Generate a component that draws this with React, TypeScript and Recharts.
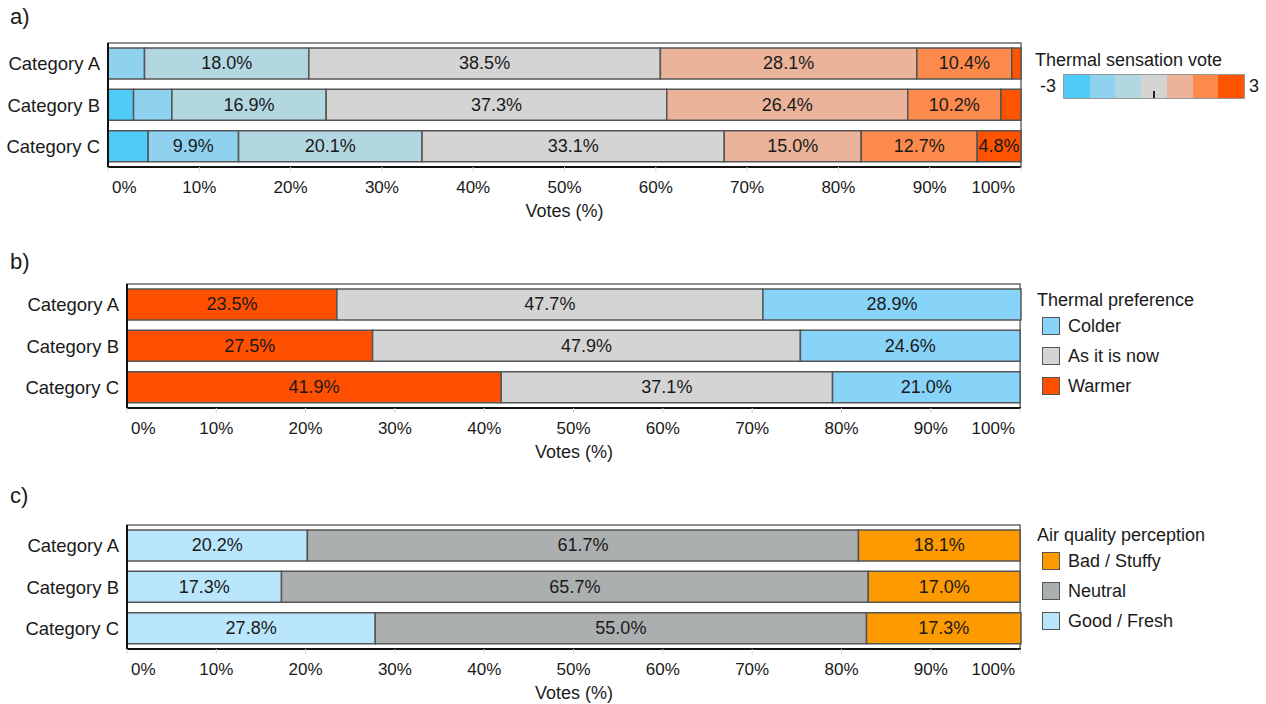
import React from "react";
import { Bar, BarChart, LabelList, ReferenceArea, XAxis, YAxis } from "recharts";

const FONT = "'Liberation Sans', Arial, sans-serif";
const INK = "#1a1a1a";

const categories = ["Category A", "Category B", "Category C"];
const xTicks = [0, 10, 20, 30, 40, 50, 60, 70, 80, 90, 100];

// a) thermal sensation vote (-3 .. 3), % of votes per category
const sensationLevels = ["-3", "-2", "-1", "0", "1", "2", "3"];
const sensationColors = ["#4ecbf7", "#8fd2f0", "#b3d7e1", "#d4d4d4", "#ebb399", "#fd8a4d", "#fe5300"];
const sensationM3 = [0.0, 2.8, 4.4];
const sensationM2 = [4.0, 4.2, 9.9];
const sensationM1 = [18.0, 16.9, 20.1];
const sensation0 = [38.5, 37.3, 33.1];
const sensationP1 = [28.1, 26.4, 15.0];
const sensationP2 = [10.4, 10.2, 12.7];
const sensationP3 = [1.0, 2.2, 4.8];

// b) thermal preference
const prefLabels = ["Warmer", "As it is now", "Colder"];
const prefColors = ["#fe5000", "#d4d4d4", "#87d4f8"];
const prefWarmer = [23.5, 27.5, 41.9];
const prefAsIs = [47.7, 47.9, 37.1];
const prefColder = [28.9, 24.6, 21.0];

// c) air quality perception
const airLabels = ["Good / Fresh", "Neutral", "Bad / Stuffy"];
const airColors = ["#b9e6fb", "#abafaf", "#fd9a00"];
const airGood = [20.2, 17.3, 27.8];
const airNeutral = [61.7, 65.7, 55.0];
const airBad = [18.1, 17.0, 17.3];

function buildRows(series: number[][]) {
  return categories.map((cat, i) => {
    const row: Record<string, any> = { cat };
    series.forEach((s, k) => {
      row["k" + k] = s[i];
    });
    return row;
  });
}

const sensationRows = buildRows([sensationM3, sensationM2, sensationM1, sensation0, sensationP1, sensationP2, sensationP3]);
const prefRows = buildRows([prefWarmer, prefAsIs, prefColder]);
const airRows = buildRows([airGood, airNeutral, airBad]);

function PctTick(props: any) {
  const { x, y, payload } = props;
  const v = payload.value;
  const anchor = v === 0 ? "start" : v === 100 ? "end" : "middle";
  const dx = v === 0 ? 4 : v === 100 ? -3 : 0;
  return (
    <text x={x + dx} y={y} dy="0.71em" textAnchor={anchor} fontSize={17} fill={INK} fontFamily={FONT}>
      {v}%
    </text>
  );
}

function SegmentLabel(props: any) {
  const { x, y, width, height, value } = props;
  if (value == null || value < 4.75) return null;
  return (
    <text
      x={x + width / 2}
      y={y + height / 2}
      textAnchor="middle"
      dominantBaseline="central"
      fontSize={18}
      fill={INK}
      fontFamily={FONT}
    >
      {value.toFixed(1)}%
    </text>
  );
}

function StackPanel({ top, rows, colors, yWidth }: { top: number; rows: any[]; colors: string[]; yWidth: number }) {
  return (
    <div style={{ position: "absolute", left: 0, top }}>
      <BarChart
        width={1030}
        height={225}
        data={rows}
        layout="vertical"
        margin={{ top: 43, right: 9, left: 0, bottom: 0 }}
        barCategoryGap="12%"
      >
        <ReferenceArea x1={0} x2={100} fill="none" stroke="#6a6a6a" strokeWidth={1.5} ifOverflow="visible" />
        <XAxis
          type="number"
          domain={[0, 100]}
          ticks={xTicks}
          height={58}
          axisLine={{ stroke: "#111", strokeWidth: 2 }}
          tickLine={{ stroke: "#d8d8d8" }}
          tickSize={5}
          tickMargin={9}
          tick={<PctTick />}
          label={{ value: "Votes (%)", position: "insideBottom", offset: 8, fontSize: 18, fill: INK, fontFamily: FONT }}
        />
        <YAxis
          type="category"
          dataKey="cat"
          width={yWidth}
          axisLine={{ stroke: "#111", strokeWidth: 2 }}
          tickLine={false}
          tickSize={0}
          tickMargin={8}
          tick={{ fontSize: 18.5, fill: INK, fontFamily: FONT }}
        />
        {colors.map((c, i) => (
          <Bar key={i} dataKey={"k" + i} stackId="s" fill={c} stroke="#555" strokeWidth={1.5} isAnimationActive={false}>
            <LabelList dataKey={"k" + i} content={<SegmentLabel />} />
          </Bar>
        ))}
      </BarChart>
    </div>
  );
}

function PanelTag({ text, top }: { text: string; top: number }) {
  return (
    <div style={{ position: "absolute", left: 10, top, fontSize: 22, color: INK, lineHeight: "24px" }}>{text}</div>
  );
}

function KeyLegend({ title, top, items }: { title: string; top: number; items: { label: string; color: string }[] }) {
  return (
    <div style={{ position: "absolute", left: 1037, top, color: INK, fontSize: 18 }}>
      <div style={{ lineHeight: "22px" }}>{title}</div>
      {items.map((it) => (
        <div key={it.label} style={{ display: "flex", alignItems: "center", height: 30, marginLeft: 5 }}>
          <div style={{ width: 16, height: 16, background: it.color, border: "1.5px solid #555", marginRight: 8 }} />
          <span>{it.label}</span>
        </div>
      ))}
    </div>
  );
}

export default function App() {
  return (
    <div
      style={{
        position: "absolute",
        left: 0,
        top: 0,
        width: 1266,
        height: 704,
        background: "#fff",
        fontFamily: FONT,
        overflow: "hidden",
      }}
    >
      <PanelTag text="a)" top={5} />
      <PanelTag text="b)" top={250} />
      <PanelTag text="c)" top={484} />

      <StackPanel top={0} rows={sensationRows} colors={sensationColors} yWidth={108} />
      <StackPanel top={241} rows={prefRows} colors={prefColors} yWidth={127} />
      <StackPanel top={482} rows={airRows} colors={airColors} yWidth={127} />

      {/* a) colour bar legend */}
      <div style={{ position: "absolute", left: 1035, top: 49, color: INK, fontSize: 18, lineHeight: "22px" }}>
        Thermal sensation vote
      </div>
      <div style={{ position: "absolute", left: 1040, top: 75, color: INK, fontSize: 18, lineHeight: "22px" }}>
        {sensationLevels[0]}
      </div>
      <div
        style={{
          position: "absolute",
          left: 1063,
          top: 74,
          width: 180,
          height: 23,
          display: "flex",
          border: "1px solid #999",
        }}
      >
        {sensationColors.map((c) => (
          <div key={c} style={{ flex: 1, background: c }} />
        ))}
        <div style={{ position: "absolute", left: 89, top: 16, width: 1.5, height: 7, background: "#222" }} />
      </div>
      <div style={{ position: "absolute", left: 1249, top: 75, color: INK, fontSize: 18, lineHeight: "22px" }}>
        {sensationLevels[6]}
      </div>

      <KeyLegend
        title="Thermal preference"
        top={289}
        items={[
          { label: prefLabels[2], color: prefColors[2] },
          { label: prefLabels[1], color: prefColors[1] },
          { label: prefLabels[0], color: prefColors[0] },
        ]}
      />
      <KeyLegend
        title="Air quality perception"
        top={524}
        items={[
          { label: airLabels[2], color: airColors[2] },
          { label: airLabels[1], color: airColors[1] },
          { label: airLabels[0], color: airColors[0] },
        ]}
      />
    </div>
  );
}
